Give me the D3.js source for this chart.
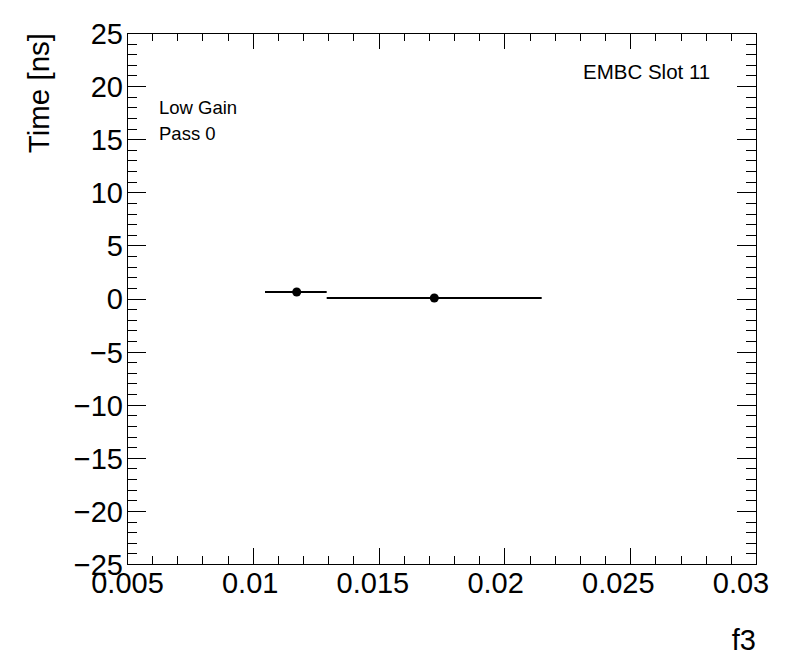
<!DOCTYPE html>
<html><head><meta charset="utf-8">
<script src="https://cdn.jsdelivr.net/npm/d3@7"></script>
<style>body{margin:0;background:#fff}svg{display:block}text{font-family:"Liberation Sans",Arial,Helvetica,sans-serif}</style>
</head><body>
<script>
// Data
const xValues = [0.011745, 0.017214];
const yValues = [0.61, 0.05];
const xLow = [0.010485, 0.012937];
const xHigh = [0.012937, 0.021482];
const yErr = [0.0, 0.0];
const xMajorTicks = [0.005, 0.01, 0.015, 0.02, 0.025, 0.03];
const xTickLabels = ["0.005", "0.01", "0.015", "0.02", "0.025", "0.03"];
const yMajorTicks = [-25, -20, -15, -10, -5, 0, 5, 10, 15, 20, 25];
const yTickLabels = ["\u221225", "\u221220", "\u221215", "\u221210", "\u22125", "0", "5", "10", "15", "20", "25"];
const xDomain = [0.005, 0.03];
const yDomain = [-25, 25];
const xTitle = "f3";
const yTitle = "Time [ns]";
const labelsLeft = ["Low Gain", "Pass 0"];
const labelRight = "EMBC Slot 11";

const W = 796, H = 672;
const L = 127, R = 756, T = 33, B = 564;
const svg = d3.select("body").append("svg").attr("width", W).attr("height", H);
const x = d3.scaleLinear().domain(xDomain).range([L, R]);
const y = d3.scaleLinear().domain(yDomain).range([B, T]);

const xMinor = d3.range(0, 26).map(i => +(0.005 + i * 0.001).toFixed(4)).filter(v => !xMajorTicks.some(m => Math.abs(m - v) < 1e-9));
const yMinor = d3.range(-25, 26, 1).filter(v => v % 5 !== 0);

function styleAxis(g) {
  g.select(".domain").remove();
  g.selectAll("line").attr("stroke", "#000").attr("stroke-width", 1).attr("shape-rendering", "crispEdges");
}

// bottom axis
svg.append("g").attr("transform", `translate(0,${B})`)
  .call(d3.axisBottom(x).tickValues(xMajorTicks).tickSize(-16).tickPadding(0).tickFormat((d, i) => xTickLabels[i]))
  .call(styleAxis)
  .call(g => g.selectAll("text").attr("font-size", 29).attr("fill", "#000")
    .attr("y", 29).attr("dy", 0).attr("dx", (d, i) => -3.1 * i));
svg.append("g").attr("transform", `translate(0,${B})`)
  .call(d3.axisBottom(x).tickValues(xMinor).tickSize(-8).tickFormat(""))
  .call(styleAxis);
// top axis
svg.append("g").attr("transform", `translate(0,${T})`)
  .call(d3.axisTop(x).tickValues(xMajorTicks).tickSize(-16).tickFormat(""))
  .call(styleAxis);
svg.append("g").attr("transform", `translate(0,${T})`)
  .call(d3.axisTop(x).tickValues(xMinor).tickSize(-8).tickFormat(""))
  .call(styleAxis);
// left axis
svg.append("g").attr("transform", `translate(${L},0)`)
  .call(d3.axisLeft(y).tickValues(yMajorTicks).tickSize(-19).tickPadding(0).tickFormat((d, i) => yTickLabels[i]))
  .call(styleAxis)
  .call(g => g.selectAll("text").attr("font-size", 29).attr("fill", "#000").attr("x", -4).attr("dy", "0.36em"));
svg.append("g").attr("transform", `translate(${L},0)`)
  .call(d3.axisLeft(y).tickValues(yMinor).tickSize(-10).tickFormat(""))
  .call(styleAxis);
// right axis
svg.append("g").attr("transform", `translate(${R},0)`)
  .call(d3.axisRight(y).tickValues(yMajorTicks).tickSize(-19).tickFormat(""))
  .call(styleAxis);
svg.append("g").attr("transform", `translate(${R},0)`)
  .call(d3.axisRight(y).tickValues(yMinor).tickSize(-10).tickFormat(""))
  .call(styleAxis);

// frame
svg.append("rect").attr("x", L).attr("y", T).attr("width", R - L).attr("height", B - T)
  .attr("fill", "none").attr("stroke", "#000").attr("stroke-width", 1).attr("shape-rendering", "crispEdges");

// data
const pts = xValues.map((v, i) => ({ x: v, y: yValues[i], lo: xLow[i], hi: xHigh[i], e: yErr[i] }));
svg.append("g").selectAll("line.h").data(pts).join("line")
  .attr("x1", d => x(d.lo)).attr("x2", d => x(d.hi))
  .attr("y1", d => y(d.y)).attr("y2", d => y(d.y))
  .attr("stroke", "#000").attr("stroke-width", 2);
svg.append("g").selectAll("circle").data(pts).join("circle")
  .attr("cx", d => x(d.x)).attr("cy", d => y(d.y)).attr("r", 4.5).attr("fill", "#000");

// titles
svg.append("text").attr("x", R).attr("y", 650).attr("text-anchor", "end").attr("font-size", 29).text(xTitle);
svg.append("text").attr("transform", `translate(49,${T}) rotate(-90)`).attr("text-anchor", "end")
  .attr("font-size", 29.5).text(yTitle);

// labels
svg.append("text").attr("x", 159).attr("y", 114).attr("font-size", 18.5).text(labelsLeft[0]);
svg.append("text").attr("x", 159).attr("y", 140).attr("font-size", 18.5).text(labelsLeft[1]);
svg.append("text").attr("x", 583).attr("y", 79).attr("font-size", 20.5).text(labelRight);
</script>
</body></html>
